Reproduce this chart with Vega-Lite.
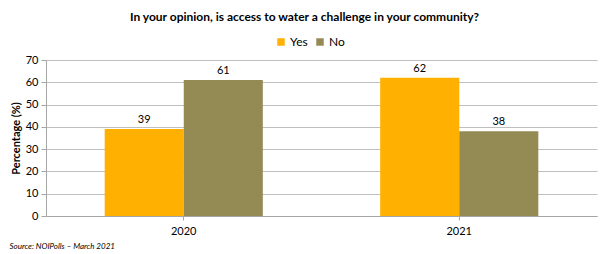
{
  "$schema": "https://vega.github.io/schema/vega-lite/v6.json",
  "width": 551,
  "height": 156,
  "autosize": {"type": "none"},
  "padding": {"left": 46, "top": 60, "right": 10, "bottom": 38},
  "background": "white",
  "title": {
    "text": "In your opinion, is access to water a challenge in your community?",
    "font": "Lato",
    "fontSize": 12,
    "fontWeight": "bold",
    "color": "#000000",
    "anchor": "middle",
    "dx": -17,
    "offset": 12
  },
  "data": {
    "values": [
      {"year": "2020", "answer": "Yes", "pct": 39},
      {"year": "2020", "answer": "No", "pct": 61},
      {"year": "2021", "answer": "Yes", "pct": 62},
      {"year": "2021", "answer": "No", "pct": 38}
    ]
  },
  "encoding": {
    "x": {
      "field": "year",
      "type": "nominal",
      "scale": {"paddingInner": 0.426, "paddingOuter": 0.213},
      "axis": {
        "title": "Source: NOIPolls – March 2021",
        "titleFont": "Lato",
        "titleFontSize": 8,
        "titleFontStyle": "italic",
        "titleFontWeight": "normal",
        "titleColor": "#000000",
        "titleAnchor": "start",
        "titleAlign": "left",
        "titleX": -37,
        "titleY": 26,
        "labelAngle": 0,
        "labelFont": "Lato",
        "labelFontSize": 11,
        "labelColor": "#000000",
        "labelPadding": 5,
        "tickBand": "extra",
        "tickColor": "#A6A6A6",
        "tickSize": 4,
        "domainColor": "#A6A6A6",
        "grid": false
      }
    },
    "xOffset": {"field": "answer", "type": "nominal", "sort": ["Yes", "No"], "scale": {"paddingInner": 0, "paddingOuter": 0}},
    "y": {
      "field": "pct",
      "type": "quantitative",
      "scale": {"domain": [0, 70]},
      "axis": {
        "title": "Percentage (%)",
        "titleFont": "Lato",
        "titleFontSize": 11,
        "titleFontWeight": "bold",
        "titleColor": "#000000",
        "titlePadding": 4,
        "values": [0, 10, 20, 30, 40, 50, 60, 70],
        "labelFont": "Lato",
        "labelFontSize": 11,
        "labelColor": "#000000",
        "labelPadding": 3,
        "tickColor": "#A6A6A6",
        "tickSize": 5,
        "domainColor": "#A6A6A6",
        "gridColor": "#BFBFBF",
        "gridWidth": 1
      }
    }
  },
  "layer": [
    {
      "mark": {"type": "bar"},
      "encoding": {
        "color": {
          "field": "answer",
          "type": "nominal",
          "sort": ["Yes", "No"],
          "scale": {"domain": ["Yes", "No"], "range": ["#FFB000", "#948A54"]},
          "legend": {
            "title": null,
            "orient": "none",
            "legendX": 229,
            "legendY": -24,
            "direction": "horizontal",
            "symbolType": "square",
            "symbolSize": 56,
            "symbolStrokeWidth": 0,
            "labelFont": "Lato",
            "labelFontSize": 12,
            "labelColor": "#000000",
            "labelOffset": 3,
            "columnPadding": 6
          }
        }
      }
    },
    {
      "mark": {"type": "text", "baseline": "bottom", "dy": -4, "font": "Lato", "fontSize": 11, "color": "#000000"},
      "encoding": {
        "text": {"field": "pct", "type": "quantitative"}
      }
    }
  ],
  "config": {
    "view": {"stroke": null}
  }
}
